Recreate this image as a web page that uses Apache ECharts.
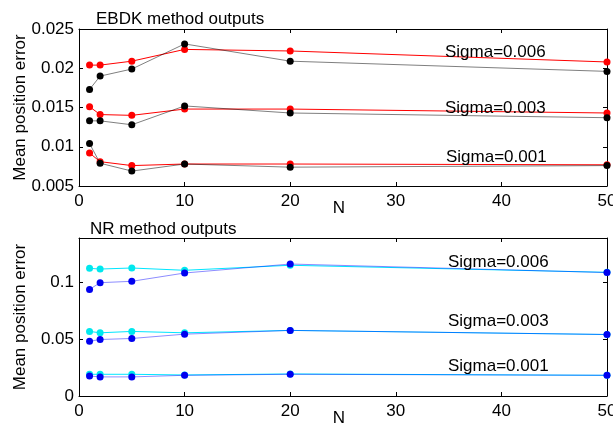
<!DOCTYPE html>
<html>
<head>
<meta charset="utf-8">
<script src="https://cdn.jsdelivr.net/npm/echarts@6/dist/echarts.min.js"></script>
<style>
  html, body { margin: 0; padding: 0; background: #fff; }
  #chart { width: 613px; height: 426px; }
</style>
</head>
<body>
<div id="chart"></div>
<script>
// Window sizes N shared by every curve
const nValues = [1, 2, 5, 10, 20, 50];

// EBDK method: mean position error per sigma (red and black curves)
const ebdkRed006 = [0.0204, 0.0204, 0.0209, 0.0224, 0.0222, 0.0208];
const ebdkBlack006 = [0.0173, 0.0190, 0.0199, 0.0231, 0.0209, 0.0196];
const ebdkRed003 = [0.0151, 0.0141, 0.0140, 0.0148, 0.0148, 0.0143];
const ebdkBlack003 = [0.0133, 0.0133, 0.0128, 0.0152, 0.0143, 0.0137];
const ebdkRed001 = [0.0092, 0.0081, 0.0076, 0.0078, 0.0078, 0.0077];
const ebdkBlack001 = [0.0104, 0.0079, 0.0069, 0.0078, 0.0074, 0.0076];

// NR method: mean position error per sigma (cyan and blue curves)
const nrCyan006 = [0.1123, 0.1117, 0.1126, 0.1106, 0.1150, 0.1088];
const nrBlue006 = [0.0938, 0.0997, 0.1009, 0.1082, 0.1161, 0.1086];
const nrCyan003 = [0.0568, 0.0556, 0.0568, 0.0556, 0.0577, 0.0541];
const nrBlue003 = [0.0482, 0.0497, 0.0506, 0.0544, 0.0577, 0.0541];
const nrCyan001 = [0.0191, 0.0191, 0.0191, 0.0185, 0.0194, 0.0182];
const nrBlue001 = [0.0176, 0.0168, 0.0168, 0.0182, 0.0191, 0.0182];

// Axis ticks
const nTicks = [0, 10, 20, 30, 40, 50];
const ebdkTicks = [0.005, 0.01, 0.015, 0.02, 0.025];
const nrTicks = [0, 0.05, 0.1];

const sigmaLabels = ['Sigma=0.006', 'Sigma=0.003', 'Sigma=0.001'];
const panelTitles = ['EBDK method outputs', 'NR method outputs'];

const FONT = "'Liberation Sans', Arial, sans-serif";
const FS = 17;

const chart = echarts.init(document.getElementById('chart'), null, { renderer: 'canvas' });

const grids = [
  { left: 79, right: 6, top: 29, height: 157, outerBoundsMode: 'none', containLabel: false },
  { left: 79, right: 6, top: 238, height: 158, outerBoundsMode: 'none', containLabel: false }
];

function xAxes(gi) {
  const base = {
    gridIndex: gi, type: 'value', min: 0, max: 50, interval: 10,
    axisLine: { show: true, onZero: false, lineStyle: { color: '#000', width: 1 } },
    axisTick: { show: true, inside: true, length: 4, lineStyle: { color: '#000' }, customValues: nTicks },
    splitLine: { show: false }
  };
  return [
    Object.assign({}, base, {
      position: 'bottom',
      axisLabel: { color: '#000', fontSize: FS, fontFamily: FONT, margin: 7, customValues: nTicks },
      name: 'N', nameLocation: 'middle', nameGap: 22, nameMoveOverlap: false,
      nameTextStyle: { color: '#000', fontSize: FS, fontFamily: FONT, padding: [0, 8, 0, 0],
        verticalAlign: 'middle' }
    }),
    Object.assign({}, base, { position: 'top', axisLabel: { show: false } })
  ];
}

function yAxes(gi, min, max, ticks) {
  const base = {
    gridIndex: gi, type: 'value', min: min, max: max,
    axisLine: { show: true, onZero: false, lineStyle: { color: '#000', width: 1 } },
    axisTick: { show: true, inside: true, length: 4, lineStyle: { color: '#000' }, customValues: ticks },
    splitLine: { show: false }
  };
  return [
    Object.assign({}, base, {
      position: 'left',
      axisLabel: { color: '#000', fontSize: FS, fontFamily: FONT, margin: 5, customValues: ticks,
        formatter: v => String(+v.toFixed(4)) },
      name: 'Mean position error', nameLocation: 'middle', nameGap: 59, nameRotate: 90,
      nameMoveOverlap: false,
      nameTextStyle: { color: '#000', fontSize: FS, fontFamily: FONT, verticalAlign: 'middle' }
    }),
    Object.assign({}, base, { position: 'right', axisLabel: { show: false } })
  ];
}

function curve(name, values, axisIdx, lineColor, dotColor, z) {
  return {
    name: name, type: 'line',
    xAxisIndex: axisIdx, yAxisIndex: axisIdx,
    data: nValues.map((n, i) => [n, values[i]]),
    symbol: 'circle', symbolSize: 7, showSymbol: true,
    clip: false, animation: false, z: z,
    lineStyle: { color: lineColor, width: 1 },
    itemStyle: { color: dotColor, borderWidth: 0 }
  };
}

const RED_LINE = '#ff0000', RED_DOT = '#ff0000';
const GRAY_LINE = 'rgba(0,0,0,0.5)', BLACK_DOT = '#000000';
const CYAN_LINE = '#00e6ff', CYAN_DOT = '#00e8ee';
const BLUE_LINE = 'rgba(0,0,255,0.45)', BLUE_DOT = '#0000f0';

const series = [
  curve('EBDK red 0.006', ebdkRed006, 0, RED_LINE, RED_DOT, 2),
  curve('EBDK red 0.003', ebdkRed003, 0, RED_LINE, RED_DOT, 2),
  curve('EBDK red 0.001', ebdkRed001, 0, RED_LINE, RED_DOT, 2),
  curve('EBDK black 0.006', ebdkBlack006, 0, GRAY_LINE, BLACK_DOT, 3),
  curve('EBDK black 0.003', ebdkBlack003, 0, GRAY_LINE, BLACK_DOT, 3),
  curve('EBDK black 0.001', ebdkBlack001, 0, GRAY_LINE, BLACK_DOT, 3),
  curve('NR cyan 0.006', nrCyan006, 2, CYAN_LINE, CYAN_DOT, 2),
  curve('NR cyan 0.003', nrCyan003, 2, CYAN_LINE, CYAN_DOT, 2),
  curve('NR cyan 0.001', nrCyan001, 2, CYAN_LINE, CYAN_DOT, 2),
  curve('NR blue 0.006', nrBlue006, 2, BLUE_LINE, BLUE_DOT, 3),
  curve('NR blue 0.003', nrBlue003, 2, BLUE_LINE, BLUE_DOT, 3),
  curve('NR blue 0.001', nrBlue001, 2, BLUE_LINE, BLUE_DOT, 3)
];

const textStyle = { fill: '#000', fontSize: FS, fontFamily: FONT, textVerticalAlign: 'middle' };
function label(text, x, y) {
  return { type: 'text', x: x, y: y, style: Object.assign({ text: text }, textStyle), z: 10 };
}

const graphic = [
  label(panelTitles[0], 96, 19),
  label(panelTitles[1], 90, 229),
  label(sigmaLabels[0], 445, 52),
  label(sigmaLabels[1], 445, 108),
  label(sigmaLabels[2], 446, 157),
  label(sigmaLabels[0], 448, 262),
  label(sigmaLabels[1], 448, 321),
  label(sigmaLabels[2], 448, 366)
];

chart.setOption({
  animation: false,
  backgroundColor: '#fff',
  grid: grids,
  xAxis: [...xAxes(0), ...xAxes(1)],
  yAxis: [...yAxes(0, 0.005, 0.025, ebdkTicks), ...yAxes(1, 0, 0.139, nrTicks)],
  series: series,
  graphic: graphic
});
</script>
</body>
</html>
